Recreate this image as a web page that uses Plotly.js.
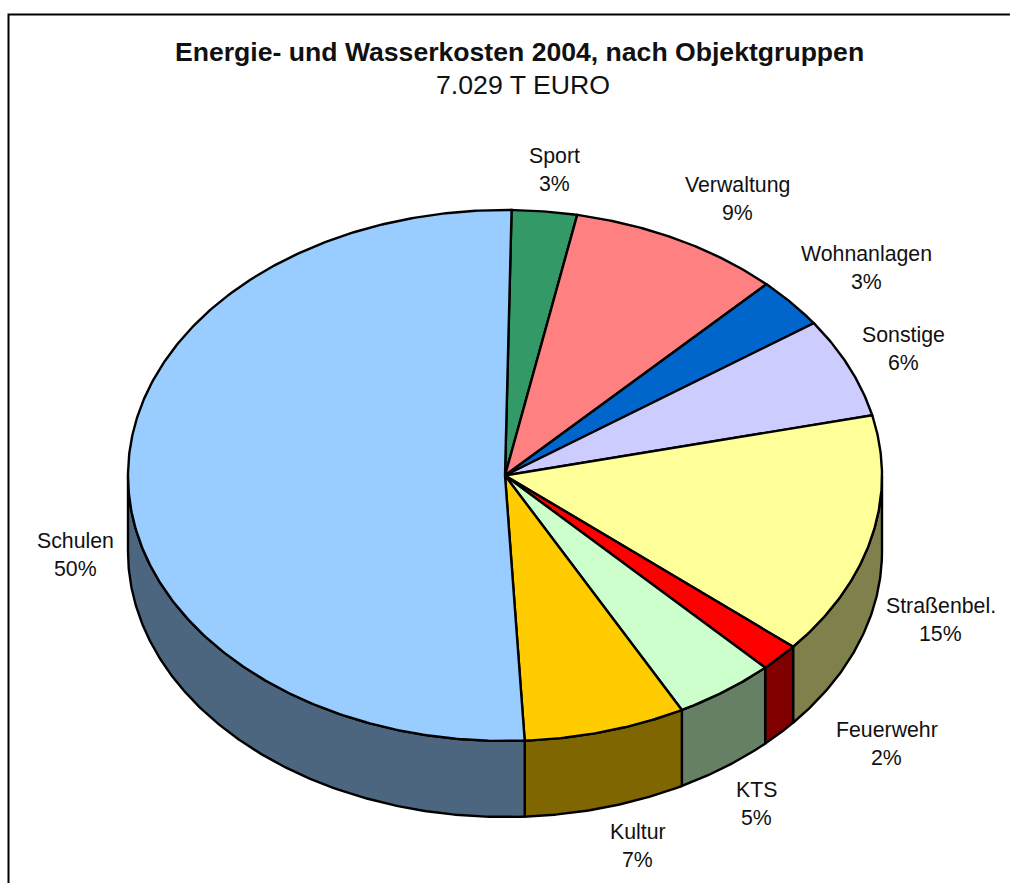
<!DOCTYPE html>
<html>
<head>
<meta charset="utf-8">
<script src="https://cdn.plot.ly/plotly-3.0.1.min.js"></script>
<style>html,body{margin:0;padding:0;background:#fff;overflow:hidden}</style>
</head>
<body>
<div id="chart" style="width:1010px;height:883px"></div>
<script>
// Data
const categories = ["Sport","Verwaltung","Wohnanlagen","Sonstige","Straßenbel.","Feuerwehr","KTS","Kultur","Schulen"];
const shares = [2.79,9.13,3.08,6.08,14.80,1.72,4.35,6.94,51.11];
const percentLabels = ["3%","9%","3%","6%","15%","2%","5%","7%","50%"];
const titleText = "Energie- und Wasserkosten 2004, nach Objektgruppen";
const subtitleText = "7.029 T EURO";

// Styles and layout
const topColors = ["#339966","#FF8080","#0066CC","#CCCCFF","#FFFF99","#FF0000","#CCFFCC","#FFCC00","#99CCFF"];
const sideColors = ["#1A4D33","#804040","#003366","#666680","#80804D","#800000","#668066","#806600","#4D6680"];
const labelNudges = [[10,-41],[59,-41],[75,-35],[54,-18],[69,82],[107,87],[31,113],[32,114.5],[-53,75]];
const cx = 505, cy = 475.5, rx = 377, ry = 265.5, depth = 76, startAngle = 1.0;
const FONT = "Liberation Sans, Arial, sans-serif", INK = "#111111";

const rad = d => d * Math.PI / 180;
const px = a => cx + rx * Math.sin(rad(a));
const py = a => cy - ry * Math.cos(rad(a));
const total = shares.reduce((s, v) => s + v, 0);

let acc = startAngle;
const slices = shares.map(v => {
  const from = acc, to = acc + v / total * 360;
  acc = to;
  return {from, to, mid: (from + to) / 2};
});
function arc(a, b) {
  const out = [], n = Math.max(2, Math.ceil(Math.abs(b - a) * 2));
  for (let i = 0; i <= n; i++) out.push(a + (b - a) * i / n);
  return out;
}

const traces = [];
const base = {type: "scatter", mode: "lines", fill: "toself", hoverinfo: "skip", showlegend: false};
// side walls (only the part of the rim facing the viewer)
slices.forEach((s, i) => {
  const a = Math.max(s.from, 90), b = Math.min(s.to, 270);
  if (b <= a) return;
  const front = arc(a, b), back = front.slice().reverse();
  traces.push(Object.assign({}, base, {
    x: front.map(px).concat(back.map(px), [px(a)]),
    y: front.map(py).concat(back.map(t => py(t) + depth), [py(a)]),
    fillcolor: sideColors[i],
    line: {color: "#000", width: 2.4}
  }));
});
// top faces
slices.forEach((s, i) => {
  const pts = arc(s.from, s.to);
  traces.push(Object.assign({}, base, {
    x: [cx].concat(pts.map(px), [cx]),
    y: [cy].concat(pts.map(py), [cy]),
    fillcolor: topColors[i],
    line: {color: "#000", width: 2.4}
  }));
});

const annotation = (x, y, text, size, bold) => ({
  xref: "x", yref: "y", x, y, text: bold ? "<b>" + text + "</b>" : text,
  showarrow: false, xanchor: "center", yanchor: "middle",
  font: {family: FONT, size, color: INK}
});
const annotations = [
  annotation(519, 52, titleText, 26.6, true),
  annotation(522.5, 85, subtitleText, 26.7, false)
];
slices.forEach((s, i) => {
  const x = px(s.mid) + labelNudges[i][0], y = py(s.mid) + labelNudges[i][1];
  annotations.push(annotation(x, y - 14, categories[i], 21.3, false));
  annotations.push(annotation(x, y + 14, percentLabels[i], 21.3, false));
});

Plotly.newPlot("chart", traces, {
  width: 1010, height: 883,
  margin: {l: 0, r: 0, t: 0, b: 0},
  paper_bgcolor: "#fff", plot_bgcolor: "#fff",
  xaxis: {range: [0, 1010], visible: false, fixedrange: true},
  yaxis: {range: [883, 0], visible: false, fixedrange: true},
  showlegend: false,
  annotations,
  shapes: [{type: "path", xref: "x", yref: "y", path: "M 1010 14.5 L 8.5 14.5 L 8.5 883", line: {color: "#000", width: 2}}]
}, {displayModeBar: false, staticPlot: true});
</script>
</body>
</html>
